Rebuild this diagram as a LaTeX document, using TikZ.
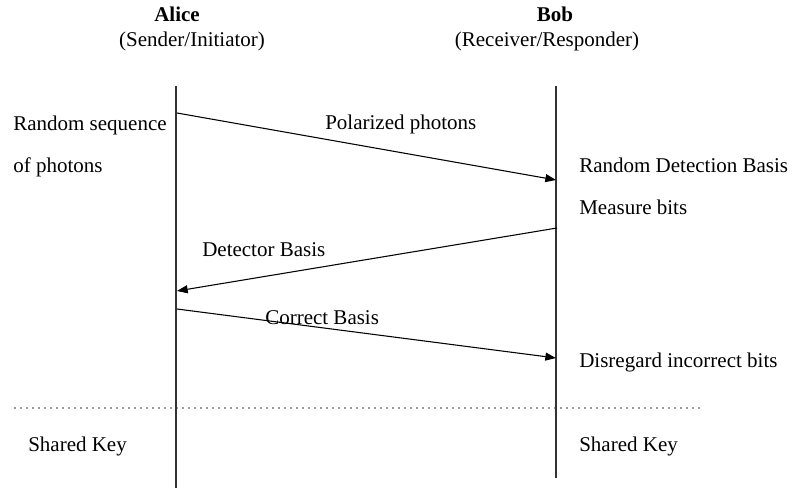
\documentclass[tikz,border=0pt]{standalone}
\usepackage{fontspec}
\setmainfont{Liberation Serif}
\usetikzlibrary{arrows.meta}
\begin{document}
\begin{tikzpicture}[x=0.75pt,y=-0.75pt,
  lbl/.style={inner sep=0pt,font=\fontsize{15.75}{19}\selectfont},
  lifeline/.style={line width=0.8pt,draw=black!80},
  msg/.style={line width=0.8pt,-{Triangle[length=8pt,width=6pt]}},
  sep/.style={line width=1.4pt,line cap=round,dash pattern=on 0pt off 4.5pt,draw=black!80}]
\useasboundingbox (0,0) rectangle (792,488);
% headers
\node[lbl,anchor=base,font=\fontsize{15.75}{19}\selectfont\bfseries] (alice) at (177,22) {Alice};
\node[lbl,anchor=base] (alicerole) at (192,47) {(Sender/Initiator)};
\node[lbl,anchor=base,font=\fontsize{15.75}{19}\selectfont\bfseries] (bob) at (555,22) {Bob};
\node[lbl,anchor=base] (bobrole) at (547,47) {(Receiver/Responder)};
% lifelines
\coordinate (at) at (176,86);
\coordinate (ab) at (176,488);
\coordinate (bt) at (556,86);
\coordinate (bb) at (556,478);
\draw[lifeline] (at) -- (ab);
\draw[lifeline] (bt) -- (bb);
% messages
\coordinate (m1s) at (177,113);
\coordinate (m1e) at (556,180);
\coordinate (m2s) at (557,228);
\coordinate (m2e) at (177,291);
\coordinate (m3s) at (177,309);
\coordinate (m3e) at (556,358);
\draw[msg] (m1s) -- (m1e);
\draw[msg] (m2s) -- (m2e);
\draw[msg] (m3s) -- (m3e);
\node[lbl,anchor=base west] (l1) at (325,130) {Polarized photons};
\node[lbl,anchor=base west] (l2) at (202,257) {Detector Basis};
\node[lbl,anchor=base west] (l3) at (265,324) {Correct Basis};
% side texts
\node[lbl,anchor=base west] (t1) at (13,131) {Random sequence};
\node[lbl,anchor=base west] (t2) at (13,173) {of photons};
\node[lbl,anchor=base west] (t3) at (579,173) {Random Detection Basis};
\node[lbl,anchor=base west] (t4) at (579,215) {Measure bits};
\node[lbl,anchor=base west] (t5) at (579,367) {Disregard incorrect bits};
% separator
\coordinate (ss) at (15,408);
\coordinate (se) at (705,408);
\draw[sep] (ss) -- (se);
\node[lbl,anchor=base west] (k1) at (28,451) {Shared Key};
\node[lbl,anchor=base west] (k2) at (579,451) {Shared Key};
\end{tikzpicture}
\end{document}
